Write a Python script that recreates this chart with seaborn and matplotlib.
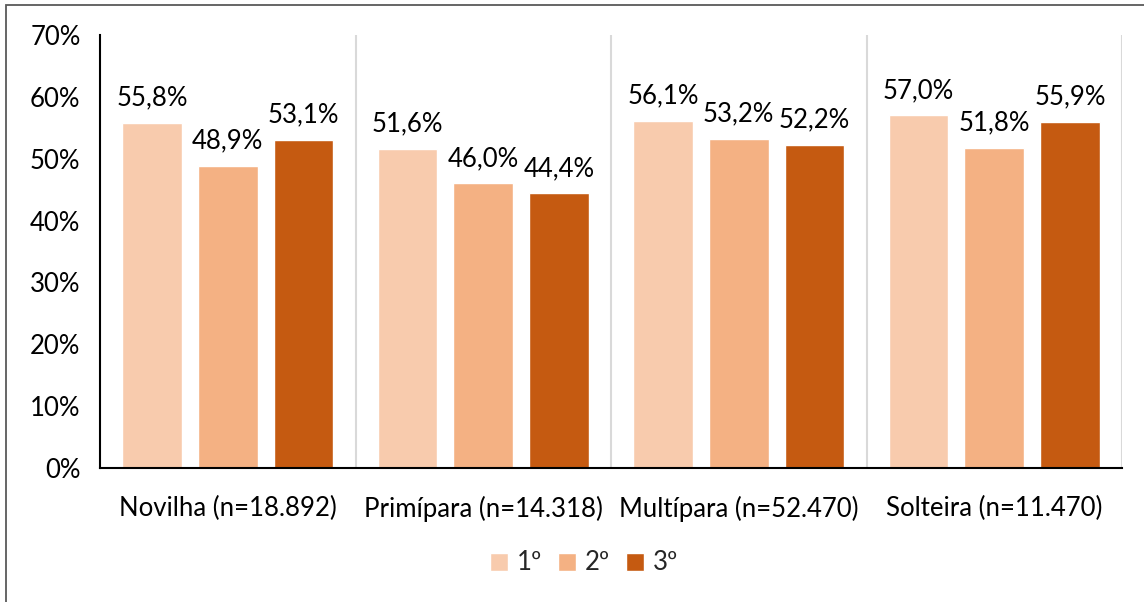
import matplotlib
matplotlib.use("Agg")
import matplotlib.pyplot as plt
import seaborn as sns
import pandas as pd
from matplotlib.patches import Rectangle

categories = ["Novilha (n=18.892)", "Primípara (n=14.318)", "Multípara (n=52.470)", "Solteira (n=11.470)"]
series = ["1º", "2º", "3º"]
s1 = [55.8, 51.6, 56.1, 57.0]
s2 = [48.9, 46.0, 53.2, 51.8]
s3 = [53.1, 44.4, 52.2, 55.9]
colors = ["#F8CBAD", "#F4B183", "#C55A11"]
yticks = [0, 10, 20, 30, 40, 50, 60, 70]

rows = []
for name, vals in zip(series, [s1, s2, s3]):
    for c, v in zip(categories, vals):
        rows.append({"cat": c, "serie": name, "val": v})
df = pd.DataFrame(rows)

sns.set_theme(style="white")
plt.rcParams['font.family'] = ['Lato', 'DejaVu Sans']
FS = 18.5

fig = plt.figure(figsize=(11.44, 6.02), dpi=100)
ax = fig.add_axes([100/1144, 1-468/602, (1122-100)/1144, (468-35)/602])

sns.barplot(data=df, x="cat", y="val", hue="serie", order=categories, hue_order=series,
            palette=colors, width=0.89, gap=0.21, ax=ax, legend=True, saturation=1)

ax.set_xlim(-0.5, 3.5)
ax.set_ylim(0, 70)
ax.set_yticks(yticks)
ax.set_yticklabels([f"{t}%" for t in yticks], fontsize=FS, color="#000000")
ax.set_xlabel("")
ax.set_ylabel("")
ax.tick_params(axis="x", length=0, labelsize=FS, pad=20, labelcolor="black")
ax.tick_params(axis="y", length=8, width=1.2, color="black", direction="out", pad=6)

for x in [0.5, 1.5, 2.5, 3.5]:
    ax.axvline(x, color="#D9D9D9", lw=1.5, zorder=0)

for sp in ["top", "right"]:
    ax.spines[sp].set_visible(False)
ax.spines["left"].set_color("black")
ax.spines["left"].set_linewidth(1.5)
ax.spines["bottom"].set_color("black")
ax.spines["bottom"].set_linewidth(1.5)

for cont in ax.containers:
    labels = [f"{v:.1f}%".replace(".", ",") for v in cont.datavalues]
    ax.bar_label(cont, labels=labels, padding=9, fontsize=FS, color="black")

ax.legend(loc="center", bbox_to_anchor=(584/1144, 1-563/602), bbox_transform=fig.transFigure,
          ncol=3, frameon=False, fontsize=FS, handlelength=0.7, handleheight=0.7,
          handletextpad=0.35, columnspacing=0.6)

fig.patches.append(Rectangle((6/1144, -0.01), 1.0, 1-5/602+0.01, transform=fig.transFigure,
                             fill=False, edgecolor="#595959", lw=1.3))

fig.savefig("out.png", dpi=100)
